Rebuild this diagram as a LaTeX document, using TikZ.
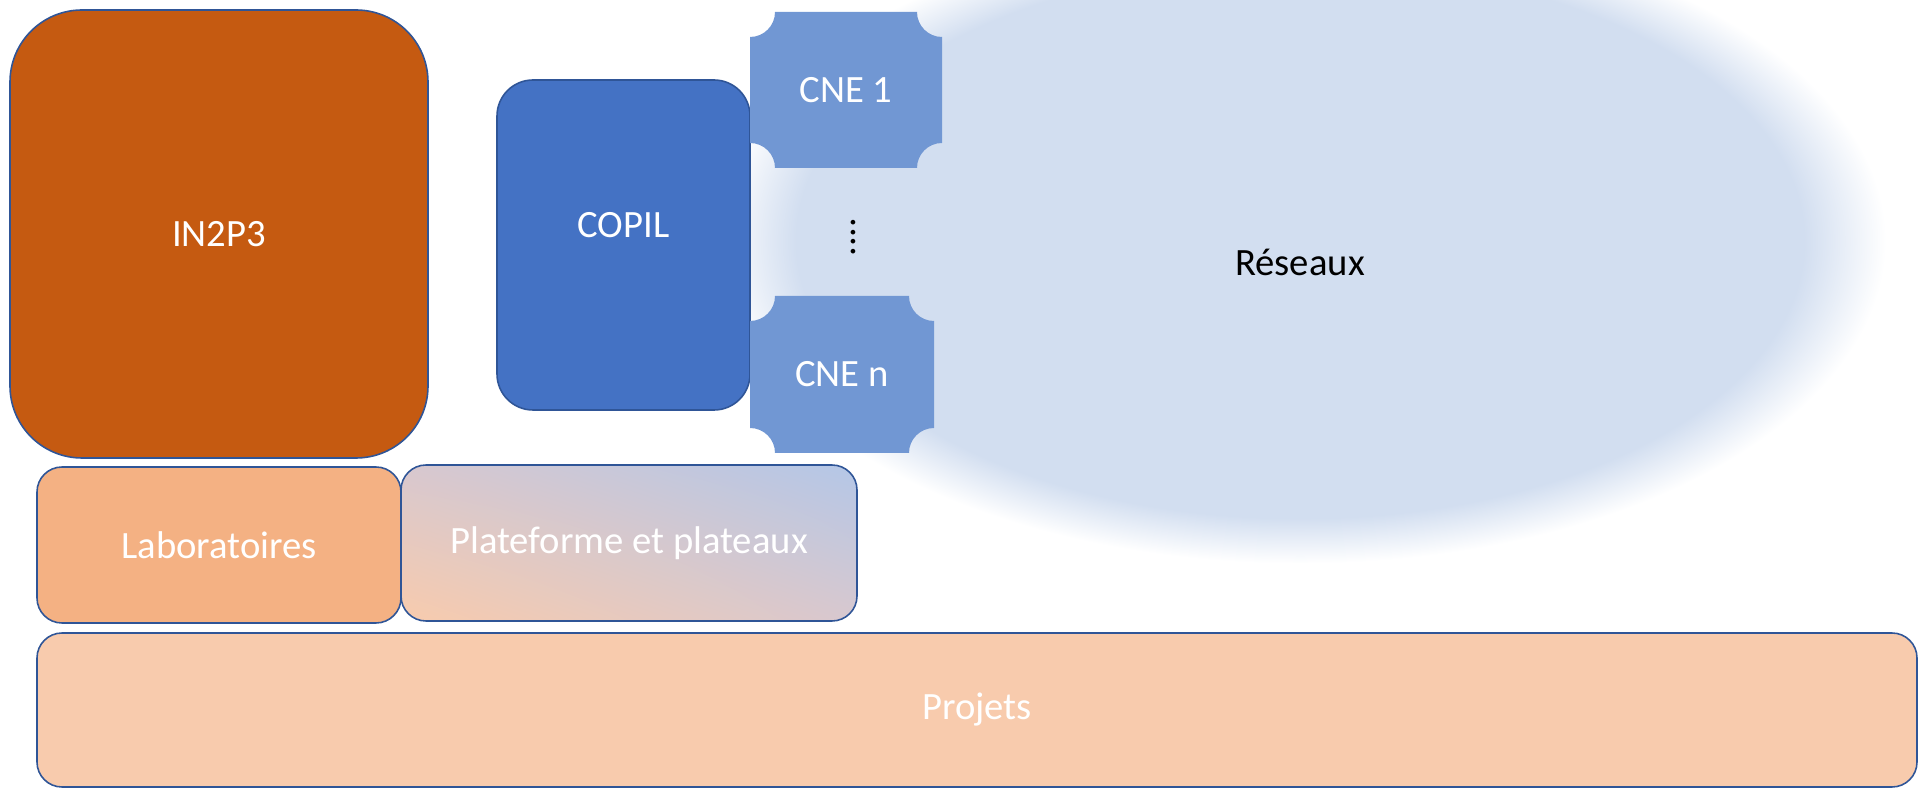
\documentclass[tikz,border=0pt]{standalone}
\usepackage{fontspec}
\setmainfont{Carlito}
\usetikzlibrary{shapes.geometric,shadings}
\definecolor{inorange}{HTML}{C55A11}
\definecolor{labpeach}{HTML}{F4B183}
\definecolor{projpeach}{HTML}{F8CBAD}
\definecolor{copilblue}{HTML}{4472C4}
\definecolor{cneblue}{HTML}{7197D3}
\definecolor{resblue}{HTML}{D2DEF0}
\definecolor{edgeblue}{HTML}{2F5597}
\definecolor{platmid}{HTML}{D8C8CF}
\definecolor{platblue}{HTML}{B4C7E7}
\pgfdeclareradialshading{reseauxfade}{\pgfpoint{0bp}{0bp}}{color(0bp)=(resblue); color(21.5bp)=(resblue); color(25bp)=(white); color(50bp)=(white)}

\begin{document}
\begin{tikzpicture}[
  every node/.style={font=\fontsize{22}{26}\selectfont},
  box/.style={draw=edgeblue, line width=0.9pt, text=white, inner sep=0pt, outer sep=0pt},
  cnebox/.style={text=white, inner sep=0pt, outer sep=0pt,
    path picture={\fill[cneblue]
      ([xshift=0.5cm]path picture bounding box.north west)
      -- ([xshift=-0.5cm]path picture bounding box.north east)
      arc[start angle=180, end angle=270, radius=0.5cm]
      -- ([yshift=0.5cm]path picture bounding box.south east)
      arc[start angle=90, end angle=180, radius=0.5cm]
      -- ([xshift=0.5cm]path picture bounding box.south west)
      arc[start angle=0, end angle=90, radius=0.5cm]
      -- ([yshift=-0.5cm]path picture bounding box.north west)
      arc[start angle=270, end angle=360, radius=0.5cm]
      -- cycle;}}
]
\useasboundingbox (0,0) rectangle (38.54,15.76);

% reseaux cloud behind
\node (reseaux) at (26.0,10.94) [ellipse, shade, shading=reseauxfade, inner sep=0pt,
  minimum width=23.44cm, minimum height=12.9cm,
  label={[yshift=-0.42cm]center:Réseaux}] {};

% top row
\node (in2p3) at (4.38,11.08) [box, fill=inorange, minimum width=8.36cm,
  minimum height=8.96cm, rounded corners=1.44cm] {IN2P3};
\node (copil) at (12.47,10.86) [box, fill=copilblue, minimum width=5.06cm,
  minimum height=6.6cm, rounded corners=0.72cm,
  label={[text=white, yshift=0.4cm]center:COPIL}] {};
\node (cne1) at (16.92,13.96) [cnebox, minimum width=3.84cm, minimum height=3.12cm] {CNE 1};
\node (dots) at (17.06,11.02) [rotate=90] {....};
\node (cnen) at (16.84,8.27) [cnebox, minimum width=3.68cm, minimum height=3.14cm] {CNE n};

% middle row
\node (labo) at (4.38,4.86) [box, fill=labpeach, minimum width=7.28cm,
  minimum height=3.12cm, rounded corners=0.5cm] {Laboratoires};
\node (plateforme) at (12.58,4.90) [box, lower left=projpeach, upper right=platblue,
  upper left=platmid, lower right=platmid, minimum width=9.12cm,
  minimum height=3.12cm, rounded corners=0.5cm] {Plateforme et plateaux};

% bottom row
\node (projets) at (19.54,1.56) [box, fill=projpeach, minimum width=37.6cm,
  minimum height=3.08cm, rounded corners=0.5cm] {Projets};
\end{tikzpicture}
\end{document}
